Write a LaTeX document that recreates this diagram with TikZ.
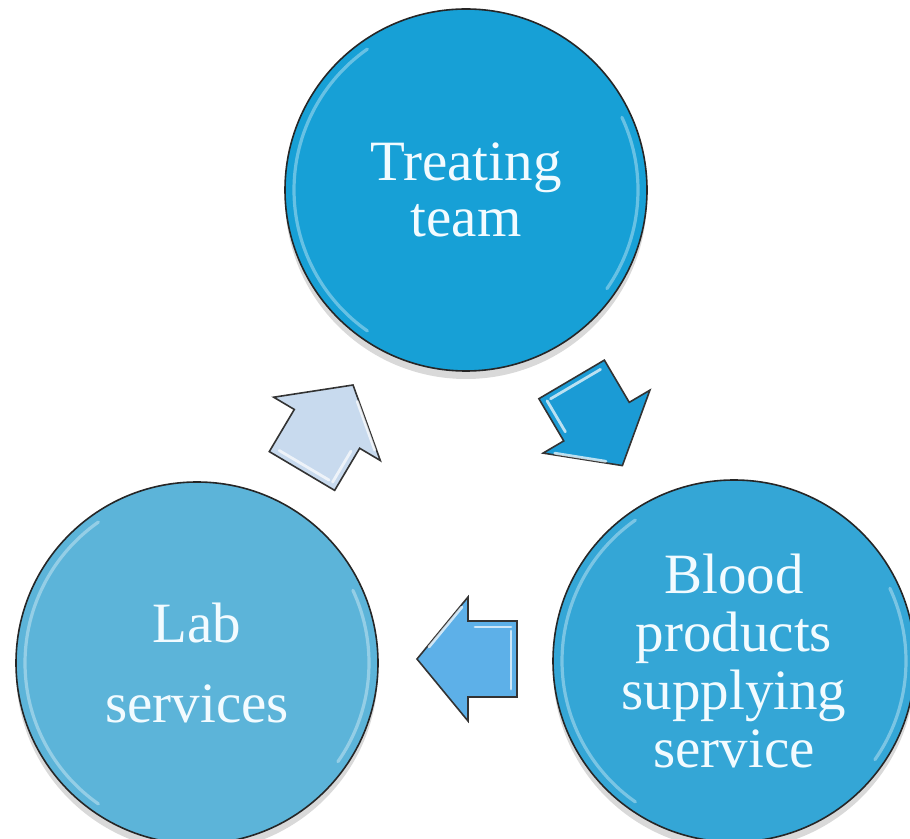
\documentclass[tikz,border=0pt]{standalone}
\usepackage{fontspec}
\setmainfont{Liberation Serif}
\usetikzlibrary{positioning}
\usetikzlibrary{shadows}

\definecolor{teamblue}{HTML}{17A0D6}
\definecolor{bloodblue}{HTML}{34A6D6}
\definecolor{labblue}{HTML}{5CB4D9}
\definecolor{arrowpale}{HTML}{C8DAEE}
\definecolor{arrowdark}{HTML}{1B9BD5}
\definecolor{arrowmid}{HTML}{5DB0E8}
\definecolor{labeltext}{HTML}{F2FBFF}

\tikzset{
	stage/.style={circle, draw=black!85, line width=0.8pt, minimum size=181pt, inner sep=0pt,
		align=center, text=labeltext,
		drop shadow={shadow xshift=0pt, shadow yshift=-4pt, opacity=0.3}},
	rim/.style={white, opacity=0.35, line width=1.6pt, line cap=round},
	arrowshape/.style={draw=black!80, line width=0.8pt, line join=miter},
	glint/.style={white, opacity=0.7, line width=1.4pt, line cap=round}
}

% block arrow: centre, angle, colour, name
\newcommand{\blockarrow}[4]{%
	\begin{scope}[shift={#1}, rotate=#2]
		\draw[arrowshape, fill=#3] (-50,-38) -- (-1,-38) -- (-1,-62) -- (50,0) -- (-1,62) -- (-1,38) -- (-50,38) -- cycle;
		\draw[glint] (-44,32) -- (-8,32);
		\draw[glint] (-44,-30) -- (-44,28);
		\draw[glint] (5,52) -- (38,12);
		\coordinate (#4) at (0,0);
	\end{scope}}

\begin{document}
\begin{tikzpicture}[x=0.5pt, y=-0.5pt]
	\useasboundingbox (0,0) rectangle (910,839);

	\node[stage, fill=teamblue, font=\fontsize{28.5}{28}\selectfont] (team) at (466,190) {Treating\\team};
	\node[stage, fill=bloodblue, font=\fontsize{28.5}{29}\selectfont] (blood) at (734,661) {Blood\\products\\supplying\\service};
	\node[stage, fill=labblue, font=\fontsize{28.5}{40}\selectfont] (lab) at (197,663) {Lab\\services};

	% glossy rims
	\foreach \c in {team, blood, lab} {
		\draw[rim] ([shift={(125:86pt)}]\c.center) arc (125:235:86pt);
		\draw[rim] ([shift={(-35:86pt)}]\c.center) arc (-35:25:86pt);
	}

	% flow arrows
	\blockarrow{(597,422.5)}{-59.5}{arrowdark}{toblood}
	\blockarrow{(467,659)}{180}{arrowmid}{tolab}
	\blockarrow{(327.5,428)}{59.3}{arrowpale}{toteam}
\end{tikzpicture}
\end{document}
